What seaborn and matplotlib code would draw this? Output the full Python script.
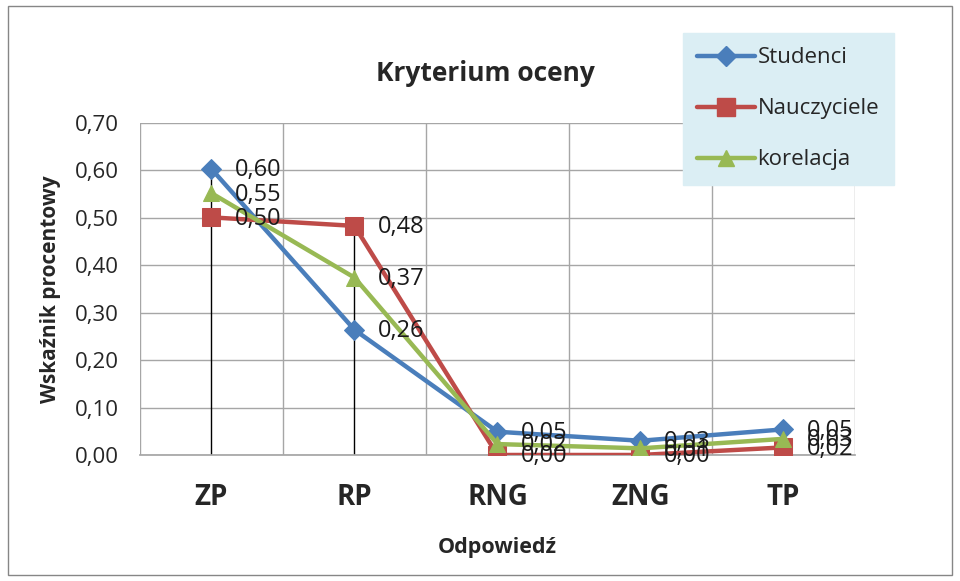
import matplotlib
matplotlib.use("Agg")
import matplotlib.pyplot as plt
from matplotlib.patches import Rectangle
from matplotlib.lines import Line2D
import seaborn as sns
import pandas as pd
import numpy as np

categories = ["ZP", "RP", "RNG", "ZNG", "TP"]
studenci = [0.603, 0.264, 0.049, 0.030, 0.054]
nauczyciele = [0.501, 0.483, 0.00, 0.00, 0.016]
korelacja = [0.552, 0.374, 0.023, 0.014, 0.034]
series_names = ["Studenci", "Nauczyciele", "korelacja"]
y_ticks = [0.0, 0.1, 0.2, 0.3, 0.4, 0.5, 0.6, 0.7]

colors = {"Studenci": "#4A7EBB", "Nauczyciele": "#BE4B48", "korelacja": "#98B954"}
markers = {"Studenci": "D", "Nauczyciele": "s", "korelacja": "^"}
msizes = {"Studenci": 10, "Nauczyciele": 13, "korelacja": 12}

sns.set_theme(style="white")
plt.rcParams["font.family"] = ["Open Sans", "DejaVu Sans"]

rows = []
for name, vals in zip(series_names, [studenci, nauczyciele, korelacja]):
    for i, (c, v) in enumerate(zip(categories, vals)):
        rows.append({"pos": i, "cat": c, "value": v, "series": name})
df = pd.DataFrame(rows)

fig = plt.figure(figsize=(9.6, 5.81), dpi=100)
ax = fig.add_axes([0.1458, 0.2169, 0.7448, 0.5714])

# gridlines
for y in y_ticks:
    ax.axhline(y, color="#A6A6A6", lw=1, zorder=0)
for b in np.arange(-0.5, len(categories), 1.0):
    ax.axvline(b, color="#A6A6A6", lw=1, zorder=0)

# drop lines
maxes = df.groupby("pos")["value"].max()
ax.vlines(maxes.index, 0, maxes.values, color="black", lw=1, zorder=1)

for name in series_names:
    sub = df[df["series"] == name]
    sns.lineplot(data=sub, x="pos", y="value", ax=ax, color=colors[name],
                 lw=3.2, marker=markers[name], markersize=msizes[name],
                 markeredgecolor=colors[name], legend=False, zorder=3)
    for _, r in sub.iterrows():
        ax.annotate(f"{r['value']:.2f}".replace(".", ","), (r["pos"], r["value"]),
                    xytext=(17, -1), textcoords="offset points", ha="left", va="center",
                    fontsize=17, color="#1a1a1a", zorder=4)

ax.set_xlim(-0.5, len(categories) - 0.5)
ax.set_ylim(0, 0.70)
ax.set_xticks(range(len(categories)))
ax.set_xticklabels(categories, fontsize=20, fontweight="bold")
ax.set_yticks(y_ticks)
ax.set_yticklabels([f"{t:.2f}".replace(".", ",") for t in y_ticks], fontsize=16)
ax.tick_params(axis="x", pad=20, length=0)
ax.tick_params(axis="y", pad=15, length=0)
for s in ["top", "right", "left"]:
    ax.spines[s].set_visible(False)
ax.spines["bottom"].set_color("#A6A6A6")
ax.set_xlabel("Odpowiedź", fontsize=15.5, fontweight="bold", labelpad=18)
ax.set_ylabel("Wskaźnik procentowy", fontsize=15, fontweight="bold", labelpad=10)

fig.text(0.506, 0.874, "Kryterium oceny", ha="center", va="center",
         fontsize=19, fontweight="bold")

handles = [Line2D([0], [0], color=colors[n], lw=3.2, marker=markers[n],
                  markersize=msizes[n], markeredgecolor=colors[n]) for n in series_names]
leg = fig.legend(handles, series_names, loc="upper left",
                 bbox_to_anchor=(683 / 960, 1 - 33 / 581), fontsize=16,
                 frameon=True, fancybox=False, handlelength=2.6, handletextpad=0.1,
                 labelspacing=1.35, borderpad=0.65, borderaxespad=0)
leg.get_frame().set_facecolor("#DBEEF4")
leg.get_frame().set_edgecolor("#DBEEF4")
leg.get_frame().set_alpha(1)

fig.patches.append(Rectangle((8 / 960, 6 / 581), 944 / 960, 569 / 581,
                             transform=fig.transFigure, fill=False,
                             edgecolor="#868686", lw=1))

fig.savefig("out.png", dpi=100, facecolor="white")
